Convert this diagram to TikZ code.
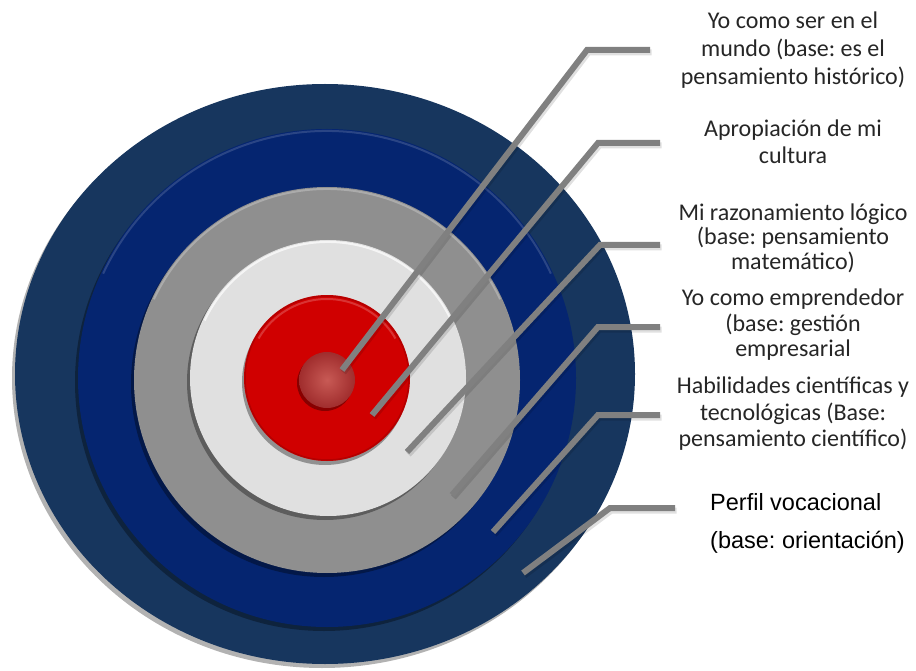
\documentclass[tikz,border=0pt]{standalone}
\usepackage{fontspec}
\setmainfont{Carlito}
\newfontfamily\arialfont{Liberation Sans}
\frenchspacing
\definecolor{navyring}{RGB}{23,54,94}
\definecolor{bluering}{RGB}{5,37,112}
\definecolor{grayring}{RGB}{143,143,143}
\definecolor{lightring}{RGB}{224,224,224}
\definecolor{redring}{RGB}{208,0,0}
\definecolor{linegray}{RGB}{128,128,128}
\definecolor{txt}{RGB}{38,38,38}
\tikzset{
  ringshadow/.style={fill=black,opacity=0.35},
  highlight/.style={draw=white,line width=2pt},
  connector/.style={draw=linegray,line width=6pt,line cap=butt,line join=miter},
  connshadow/.style={draw=black,opacity=0.12,line width=6pt,line join=miter},
  lbl/.style={align=center,text=txt,inner sep=0pt,font=\fontsize{24}{26}\selectfont},
  lblarial/.style={anchor=west,text=black,inner sep=0pt,font=\arialfont\fontsize{23.5}{26}\selectfont}
}
\begin{document}
\begin{tikzpicture}[x=1pt,y=-1pt]
\useasboundingbox (0,0) rectangle (916,671);
% outer ring with light shadow
\fill[black!30] (322,378) ellipse[x radius=310pt, y radius=290pt];
\fill[navyring] (325,374) ellipse[x radius=310pt, y radius=290pt];
% blue ring
\fill[ringshadow] (324,382) circle[radius=249pt];
\fill[bluering] (327,378) circle[radius=249pt];
\draw[highlight,opacity=0.15] (327,378) ++(-25:247) arc[start angle=-25,end angle=-155,radius=247];
% gray ring
\fill[ringshadow] (324,384) circle[radius=193pt];
\fill[grayring] (327,380) circle[radius=193pt];
\draw[highlight,opacity=0.25] (327,380) ++(-25:191) arc[start angle=-25,end angle=-155,radius=191];
% light ring
\fill[ringshadow] (325,382) circle[radius=138pt];
\fill[lightring] (328,378) circle[radius=138pt];
\draw[highlight,opacity=0.7] (328,378) ++(-25:136) arc[start angle=-25,end angle=-155,radius=136];
% red disc
\fill[ringshadow] (325,382) circle[radius=83pt];
\fill[redring] (327,378) circle[radius=83pt];
\draw[red!60!black,opacity=0.5,line width=1.5pt] (327,378) circle[radius=82pt];
\draw[highlight,opacity=0.2] (327,378) ++(-30:79) arc[start angle=-30,end angle=-150,radius=79];
% centre ball
\fill[ringshadow] (325,383) circle[radius=28pt];
\shade[inner color={rgb,255:red,200;green,90;blue,85},outer color={rgb,255:red,160;green,45;blue,45}] (327,380) circle[radius=28pt];

% connector coordinates
\coordinate (e1) at (342,370); \coordinate (c1) at (587,50);  \coordinate (b1) at (650,50);
\coordinate (e2) at (372,415); \coordinate (c2) at (598,143); \coordinate (b2) at (660,143);
\coordinate (e3) at (407,452); \coordinate (c3) at (600,245); \coordinate (b3) at (660,245);
\coordinate (e4) at (452,495); \coordinate (c4) at (598,327); \coordinate (b4) at (660,327);
\coordinate (e5) at (493,532); \coordinate (c5) at (598,415); \coordinate (b5) at (660,415);
\coordinate (e6) at (523,573); \coordinate (c6) at (610,508); \coordinate (b6) at (675,508);

\foreach \i in {1,...,6}{
  \draw[connshadow,transform canvas={shift={(1.5pt,-2.5pt)}}] (e\i) -- (c\i) -- (b\i);
  \draw[connector] (e\i) -- (c\i) -- (b\i);
}

% labels
\node[lbl,font=\fontsize{24}{28}\selectfont] (t1) at (793,50) {Yo como ser en el\\mundo (base: es el\\pensamiento histórico)};
\node[lbl,font=\fontsize{24}{27}\selectfont] (t2) at (793,142) {Apropiación de mi\\cultura};
\node[lbl,font=\fontsize{24}{24.5}\selectfont] (t3) at (793,238) {Mi razonamiento lógico\\(base: pensamiento\\matemático)};
\node[lbl,font=\fontsize{24}{25.5}\selectfont] (t4) at (793,325) {Yo como emprendedor\\(base: gestión\\empresarial};
\node[lbl,font=\fontsize{24}{26.5}\selectfont] (t5) at (793,414) {Habilidades científicas y\\tecnológicas (Base:\\pensamiento científico)};
\node[lblarial] (t6a) at (710,502) {Perfil vocacional};
\node[lblarial] (t6b) at (710,542) {(base: orientación)};
\end{tikzpicture}
\end{document}
